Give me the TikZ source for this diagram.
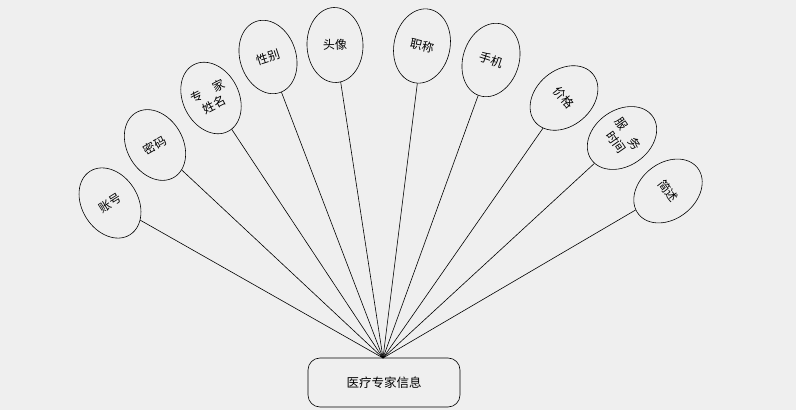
\documentclass[tikz,border=0pt]{standalone}
\usepackage{fontspec}
\newfontfamily\cjk{Noto Sans CJK SC}
\usetikzlibrary{shapes.geometric}

\begin{document}
\begin{tikzpicture}[x=1pt, y=1pt,
		attr/.style={draw, line width=0.6pt, ellipse, minimum width=56pt, minimum height=75pt, inner sep=0pt, align=center, font=\cjk\fontsize{12}{15}\selectfont},
		entity/.style={draw, line width=0.6pt, rounded corners=12pt, minimum width=152pt, minimum height=49pt, font=\cjk\fontsize{12.5}{15}\selectfont},
		link/.style={line width=0.6pt}]
	%		\draw [thin, help lines] (0,0) grid[step=50] (796,410);
	\useasboundingbox[fill={rgb,255:red,239;green,239;blue,239}] (0,0) rectangle (796,410);
	%%% Entita
	\node[entity] (esperto) at (384,27.5) {医疗专家信息};
	\coordinate (hub) at (383,52);
	%%% Attributi
	\node[attr, rotate=32] (zhanghao) at (110,207) {账号};
	\node[attr, rotate=30] (mima) at (155,265) {密码};
	\node[attr, rotate=27] (xingming) at (211,312) {专\quad 家\\姓名};
	\node[attr, rotate=18] (xingbie) at (268,353) {性别};
	\node[attr, rotate=2] (touxiang) at (335,365) {头像};
	\node[attr, rotate=-12] (zhicheng) at (422,364) {职称};
	\node[attr, rotate=-18] (shouji) at (491,350) {手机};
	\node[attr, rotate=-50] (jiage) at (564,312) {价格};
	\node[attr, rotate=-55] (fuwu) at (622,272) {服\quad 务\\时间};
	\node[attr, rotate=-52] (jianshu) at (668,219) {简述};
	%%% Linee
	\foreach \a in {zhanghao, mima, xingming, xingbie, touxiang, zhicheng, shouji, jiage, fuwu, jianshu}
		\draw[link] (hub) -- (\a);
\end{tikzpicture}
\end{document}
